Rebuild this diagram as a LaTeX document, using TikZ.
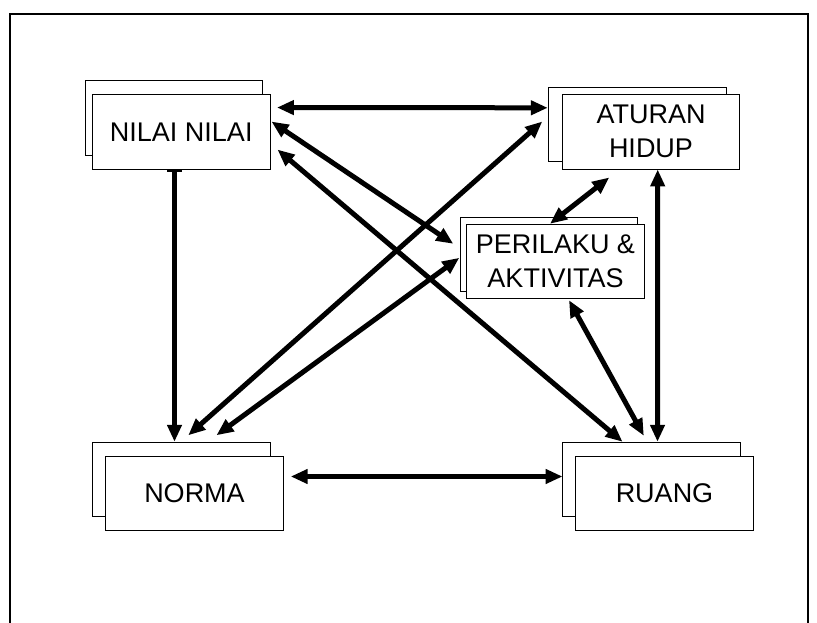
\documentclass[tikz,border=0pt]{standalone}
\usepackage{fontspec}
\setmainfont{Liberation Sans}
\usetikzlibrary{arrows.meta}
\tikzset{
  backbox/.style={draw=black, fill=white, line width=0.9pt, minimum width=177.5pt, minimum height=74.5pt, inner sep=0pt},
  frontbox/.style={draw=black, fill=white, line width=0.9pt, minimum width=177.5pt, minimum height=74.5pt, inner sep=0pt, align=center, font=\fontsize{27}{34}\selectfont},
  link/.style={line width=5pt, {Triangle[length=17pt,width=14pt]}-{Triangle[length=17pt,width=14pt]}},
  onelink/.style={line width=5pt, {Bar[width=15pt,line width=3pt]}-{Triangle[length=17pt,width=14pt]}},
  frame/.style={line width=1.4pt, draw=black}
}
\begin{document}
\begin{tikzpicture}[x=1pt,y=-1pt]
\useasboundingbox (0,0) rectangle (817,623);
\draw[frame] (10,623) -- (10,14) -- (808,14) -- (808,623);

% back boxes
\node[backbox] (nilaib) at (174,118.2) {};
\node[backbox] (aturanb) at (637.5,124.5) {};
\node[backbox] (perilakub) at (549,254.5) {};
\node[backbox] (normab) at (181.25,479.5) {};
\node[backbox] (ruangb) at (651.25,479.5) {};
% front boxes
\node[frontbox] (nilai) at (181.25,131.75) {NILAI NILAI};
\node[frontbox] (aturan) at (651,131.75) {ATURAN\\HIDUP};
\node[frontbox] (perilaku) at (555.5,261.5) {PERILAKU \&\\AKTIVITAS};
\node[frontbox] (norma) at (194.5,493.5) {NORMA};
\node[frontbox] (ruang) at (664.5,493.5) {RUANG};

% connectors
\draw[link] ([shift={(6.5,13.5)}]nilai.north east) -- ([shift={(-0.5,21)}]aturanb.north west);
\draw[onelink] ([shift={(-6.75,0)}]nilai.south) -- ([shift={(-6.75,0)}]normab.north);
\draw[link] ([shift={(7,20.7)}]norma.north east) -- ([shift={(0.5,34.7)}]ruangb.north west);
\draw[link] ([shift={(6.7,0)}]aturan.south) -- ([shift={(6.25,0)}]ruangb.north);
\draw[link] ([shift={(1,27.5)}]nilai.north east) -- ([shift={(-6.5,27)}]perilakub.north west);
\draw[link] ([shift={(7,55.5)}]nilai.north east) -- ([shift={(60.5,0)}]ruangb.north west);
\draw[link] ([shift={(-6,34.7)}]aturanb.north west) -- ([shift={(7,-6.5)}]normab.north);
\draw[link] ([shift={(-0.5,41)}]perilakub.north west) -- ([shift={(-54,-6.5)}]normab.north east);
\draw[link] ([shift={(47.5,8)}]aturan.south west) -- ([shift={(-5.5,0)}]perilaku.north);
\draw[link] ([shift={(13.5,1)}]perilaku.south) -- ([shift={(81.8,-6)}]ruangb.north west);
\end{tikzpicture}
\end{document}
